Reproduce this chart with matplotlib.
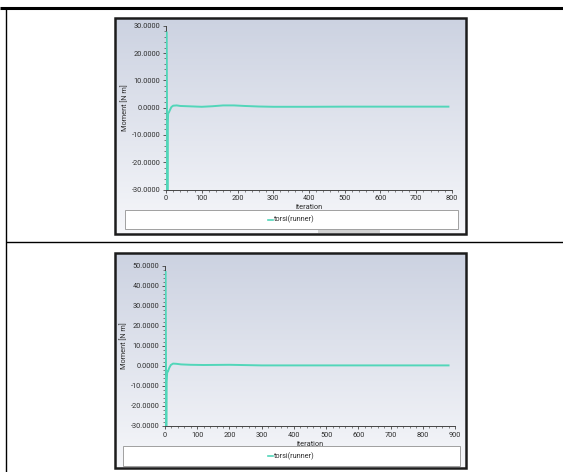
import numpy as np
import matplotlib
matplotlib.use("Agg")
import matplotlib.pyplot as plt
from matplotlib.patches import Rectangle
from matplotlib.lines import Line2D
from matplotlib.ticker import AutoMinorLocator, FormatStrFormatter

# Torque history for the runner, two solver runs
run1_iter = [2, 3, 4, 5, 6, 8, 11, 15, 20, 30, 40, 60, 80, 100, 130, 160, 190, 220, 260, 300, 350, 400, 500, 600, 700, 790]
run1_moment = [27.5, -5.0, -32.0, -6.0, -2.0, -1.8, -0.9, 0.2, 0.7, 0.8, 0.6, 0.5, 0.4, 0.3, 0.5, 0.8, 0.8, 0.6, 0.4, 0.3, 0.3, 0.3, 0.35, 0.35, 0.35, 0.35]

run2_iter = [2, 3, 4, 5, 7, 9, 13, 18, 25, 35, 50, 80, 120, 200, 300, 400, 500, 600, 700, 800, 880]
run2_moment = [47.0, 5.0, -32.0, -8.0, -2.5, -2.8, -1.0, 0.5, 1.2, 1.1, 0.8, 0.6, 0.5, 0.6, 0.3, 0.3, 0.3, 0.3, 0.3, 0.3, 0.3]

run1_xticks = [0, 100, 200, 300, 400, 500, 600, 700, 800]
run1_yticks = [-30, -20, -10, 0, 10, 20, 30]
run2_xticks = [0, 100, 200, 300, 400, 500, 600, 700, 800, 900]
run2_yticks = [-30, -20, -10, 0, 10, 20, 30, 40, 50]

series_label = "torsi(runner)"
x_label = "iteration"
y_label = "Moment [N m]"

W, H = 563, 472
LINE_COLOR = "#52d6b9"
FONT = "Roboto"
FS = 5.3
TXT = "#2e2e2e"

fig = plt.figure(figsize=(W / 100, H / 100), dpi=100)
fig.patch.set_facecolor("white")


def box(x0, y0, x1, y1):
    return [x0 / W, 1 - y1 / H, (x1 - x0) / W, (y1 - y0) / H]


def fig_line(x0, y0, x1, y1, lw, color="black"):
    fig.add_artist(Line2D([x0 / W, x1 / W], [1 - y0 / H, 1 - y1 / H],
                          transform=fig.transFigure, lw=lw, color=color,
                          solid_capstyle="butt"))


def fig_rect(x0, y0, x1, y1, **kw):
    fig.add_artist(Rectangle((x0 / W, 1 - y1 / H), (x1 - x0) / W, (y1 - y0) / H,
                             transform=fig.transFigure, **kw))


# table borders
fig_line(0, 8, W, 8, 2.2)
fig_line(5.5, 8, 5.5, H, 1.0)
fig_line(5.5, 242, W, 242, 1.0)


def panel(frame, plot_area, legend_box, xs, ys, xticks, yticks, xlim, ylim):
    fx0, fy0, fx1, fy1 = frame
    # gradient background of the chart window
    bg = fig.add_axes(box(fx0, fy0, fx1, fy1), zorder=0)
    top = np.array([204, 210, 225]) / 255
    bottom = np.array([246, 247, 250]) / 255
    t = np.linspace(0, 1, 256)[:, None]
    grad = top[None, :] * (1 - t) + bottom[None, :] * t
    bg.imshow(grad[:, None, :].repeat(2, axis=1), aspect="auto", extent=[0, 1, 0, 1])
    bg.set_axis_off()

    ax = fig.add_axes(box(*plot_area), zorder=2)
    ax.set_facecolor("none")
    ax.plot(xs, ys, color=LINE_COLOR, lw=1.4, solid_joinstyle="round", zorder=3)
    ax.set_xlim(*xlim)
    ax.set_ylim(*ylim)
    ax.set_xticks(xticks)
    ax.set_yticks(yticks)
    ax.xaxis.set_minor_locator(AutoMinorLocator(5))
    ax.yaxis.set_minor_locator(AutoMinorLocator(5))
    ax.yaxis.set_major_formatter(FormatStrFormatter("%.4f"))
    for s in ("top", "right"):
        ax.spines[s].set_visible(False)
    for s in ("left", "bottom"):
        ax.spines[s].set_color("#444444")
        ax.spines[s].set_linewidth(0.7)
        ax.spines[s].set_zorder(2)
    ax.tick_params(which="major", length=2.5, width=0.6, color="#444444",
                   labelsize=FS, labelcolor=TXT, pad=1.5)
    ax.tick_params(which="minor", length=1.3, width=0.5, color="#555555")
    for lab in ax.get_xticklabels() + ax.get_yticklabels():
        lab.set_fontfamily(FONT)
    ax.set_ylabel(y_label, fontsize=FS, color=TXT, family=FONT, labelpad=1.5)
    ax.set_xlabel(x_label, fontsize=FS, color=TXT, family=FONT, labelpad=1.5)

    # legend box
    lx0, ly0, lx1, ly1 = legend_box
    fig_rect(lx0, ly0, lx1, ly1, facecolor="white", edgecolor="#a0a0a0", lw=0.7, zorder=3)
    cx = (lx0 + lx1) / 2
    cy = (ly0 + ly1) / 2
    fig.add_artist(Line2D([(cx - 24) / W, (cx - 19) / W], [1 - cy / H, 1 - cy / H],
                          transform=fig.transFigure, color=LINE_COLOR, lw=1.2, zorder=4))
    fig.text((cx - 17.5) / W, 1 - cy / H, series_label, fontsize=FS, color=TXT,
             family=FONT, ha="left", va="center", zorder=4)

    # window frame
    fig_rect(fx0, fy0, fx1, fy1, facecolor="none", edgecolor="#1c1c1c", lw=1.8, zorder=5)
    return ax


ax1 = panel((115, 18, 466, 234), (166, 25.7, 452, 189.5), (125, 210, 458, 229),
            run1_iter, run1_moment, run1_xticks, run1_yticks, (0, 800), (-30, 30))
# small scrollbar strip under the first legend
fig_rect(318, 229.5, 380, 232.5, facecolor="#d0d0d0", edgecolor="none", zorder=4)

ax2 = panel((115, 253, 466, 468), (165, 266, 455, 426), (123, 446, 460, 466),
            run2_iter, run2_moment, run2_xticks, run2_yticks, (0, 900), (-30, 50))

fig.savefig("out.png", dpi=100)
